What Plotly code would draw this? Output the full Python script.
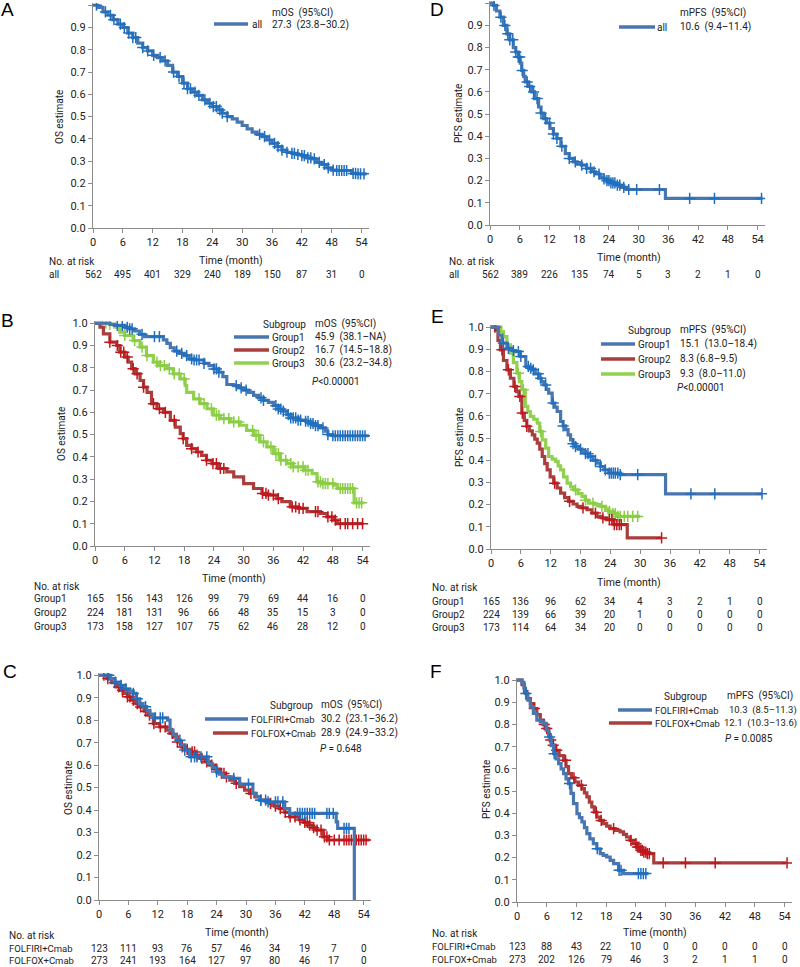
import numpy as np
import plotly.graph_objects as go

W, H = 800, 967
def px(x): return x / W
def py(y): return 1 - y / H

BLUE_L, BLUE_M = '#4A76B0', '#1F6FC0'
RED_L, RED_M = '#A83F3C', '#C0171C'
GREEN_L, GREEN_M = '#92D050', '#8ACD45'
AXC = '#8C8C8C'
TXT = '#222222'
FONT = 'Roboto'

# ---------------- Data ----------------
x_ticks = [0, 6, 12, 18, 24, 30, 36, 42, 48, 54]

# Panel A: OS all
A_t = [0,1,2,3,4,5,6,7,8,9,10,11,12,13,14,15,16,17,18,19,20,21,22,23,24,25,26,27,28,29,30,31,32,33,34,35,36,37,38,39,40,41,42,43,44,45,46,47,48,49,50,51,52,53,55]
A_s = [1.0,0.99,0.97,0.955,0.935,0.915,0.90,0.875,0.855,0.83,0.81,0.795,0.775,0.765,0.75,0.73,0.70,0.68,0.65,0.625,0.61,0.595,0.575,0.56,0.545,0.53,0.515,0.50,0.49,0.475,0.46,0.445,0.43,0.42,0.41,0.395,0.38,0.365,0.35,0.34,0.335,0.33,0.325,0.315,0.31,0.295,0.285,0.27,0.26,0.258,0.258,0.258,0.245,0.243,0.243]
A_c = [0.7,2.5,3.5,4.2,5.5,6.3,7.2,8,8.6,10,11,12.2,13.5,14.5,16.2,17.3,18.3,19,19.6,20.5,21.3,22.5,23.5,24.2,24.8,25.5,26,27,33.5,34.5,35.5,36.5,37.2,38,39,40,40.5,41.2,42,42.5,43.2,43.8,44.5,45.5,46.5,47.3,48.3,49,49.5,50,50.5,51,52.3,52.8,53.3,53.8,54.5]
A_risk = [562, 495, 401, 329, 240, 189, 150, 87, 31, 0]

# Panel D: PFS all
D_t = [0,0.7,1.3,2,2.7,3.4,4,4.7,5.2,5.7,6.1,6.4,6.8,7.1,7.7,8.4,9,9.8,10.3,10.8,11.4,12.1,12.8,13.5,14.3,15.2,16,16.8,17.6,18.5,19.5,20.5,21.3,22.2,23,23.6,24.4,25.6,26.5,27.6,35.4,55]
D_s = [1.0,0.99,0.965,0.937,0.90,0.862,0.835,0.80,0.78,0.757,0.73,0.697,0.67,0.645,0.625,0.60,0.57,0.532,0.505,0.48,0.46,0.435,0.41,0.39,0.355,0.322,0.30,0.285,0.278,0.27,0.255,0.24,0.23,0.217,0.208,0.20,0.19,0.18,0.17,0.16,0.12,0.12]
D_c = [0.8,2.2,3,3.6,4,4.6,5.2,5.7,6,6.5,7.5,8,8.8,9.5,10.3,11.2,12,12.8,13.5,14.5,16,17.2,18.5,19.5,20.3,21,22,23,23.6,24,24.4,24.8,25.2,25.7,26.2,27,28,29.6,34.2,40.3,45.3,54.8]
D_risk = [562, 389, 226, 135, 74, 5, 3, 2, 1, 0]

# Panel B: OS by subgroup
B1_t = [0,3,4,6,7,8,9,10,13.8,14.5,15.2,16,17,18,19,20,22,23,24,25,25.8,26.6,28,29,30,31,32,33,34,35,36,37,38,38.7,39.5,41,42.5,43.4,44.5,45.5,46.5,47,48,55.3]
B1_s = [1.0,0.995,0.99,0.982,0.975,0.965,0.95,0.94,0.925,0.91,0.89,0.875,0.865,0.855,0.84,0.835,0.82,0.81,0.795,0.78,0.76,0.725,0.72,0.71,0.70,0.69,0.676,0.665,0.654,0.645,0.63,0.615,0.605,0.59,0.575,0.565,0.56,0.55,0.54,0.53,0.515,0.50,0.495,0.495]
B1_c = [4.5,5.5,6.5,7,7.5,9.5,12,13,16.5,17.5,18.5,19.5,20,20.5,21,22,24,24.5,25,28.5,29.5,30.5,33.5,34,36.5,37,37.5,38,39,39.5,40,40.5,41,41.5,42.5,43,43.5,44,44.5,45,46,47,48,48.5,49,49.5,50,50.5,51,51.5,52,52.5,53,53.5,54,54.5]
B2_t = [0,0.3,1,1.7,3,4.4,5,6,6.7,7.4,8.1,9.1,9.8,10.5,11.4,12.5,13.8,15.2,16.2,17.2,17.8,18.5,19.5,20.5,21.5,22.5,23.6,24.9,26.6,28,30,32,33.7,34.7,36.7,37.7,39.4,41,42.8,45.5,46.8,48.2,48.9,54.2]
B2_s = [1.0,1.0,0.982,0.952,0.915,0.90,0.87,0.848,0.825,0.796,0.773,0.743,0.713,0.69,0.639,0.616,0.60,0.564,0.534,0.504,0.482,0.452,0.437,0.422,0.407,0.385,0.37,0.348,0.333,0.31,0.28,0.258,0.236,0.228,0.213,0.199,0.176,0.169,0.154,0.146,0.131,0.116,0.10,0.10]
B2_c = [3,4.5,5.2,5.8,6.5,7.7,8.5,9.8,11.8,13,14.2,16,17.8,19.5,20.8,22.5,23.8,24.5,25.3,26,33.8,34.5,35,36,37,39.8,40.5,41.2,42,44.5,45,47,47.8,48.5,49.5,50.5,51,52,53,54]
B3_t = [0,3,4,5,6,7.7,9.1,10.4,11.8,12.8,14.5,15.8,17.2,18.2,18.5,19.9,21.2,22.6,23.9,25.3,27.3,29.3,30.6,32,33.3,34.7,36,37.4,38.7,40,42.1,43.8,44.8,45.8,48.2,48.9,52.3,54.2]
B3_s = [1.0,0.995,0.982,0.96,0.945,0.922,0.893,0.855,0.825,0.81,0.796,0.773,0.75,0.72,0.69,0.66,0.639,0.616,0.587,0.572,0.557,0.542,0.519,0.497,0.467,0.445,0.415,0.385,0.37,0.355,0.34,0.325,0.288,0.28,0.273,0.258,0.194,0.194]
B3_c = [1.5,2.2,3,6,8,9.5,10.5,12.5,13.2,14,15,16,17,18,21,22,23.5,24.5,25,26,27,28,29,31.8,32.5,33,34,35.5,36.5,37,37.5,38.5,39.5,40,41,42,42.5,43,45,45.5,46,46.5,47,48,49.5,50,50.5,51,51.5,52,52.8,53.3,53.8]
B_names = ['Group1', 'Group2', 'Group3']
B_med = ['45.9\u00a0\u00a0(38.1\u2013NA)', '16.7\u00a0\u00a0(14.5\u201318.8)', '30.6\u00a0\u00a0(23.2\u201334.8)']
B_risk = [[165, 156, 143, 126, 99, 79, 69, 44, 16, 0],
          [224, 181, 131, 96, 66, 48, 35, 15, 3, 0],
          [173, 158, 127, 107, 75, 62, 46, 28, 12, 0]]

# Panel E: PFS by subgroup
E1_t = [0,0.9,1.5,2.2,3.2,4.2,4.9,5.9,7.0,7.6,8.2,8.9,9.6,10.1,10.6,11.1,11.6,12.3,12.8,13.3,14,14.5,15,15.5,16,16.5,17,17.6,18.3,19,19.6,20.5,21.3,22,22.7,23.7,26,35.1,54.5]
E1_s = [1.0,1.0,0.965,0.928,0.905,0.895,0.89,0.868,0.823,0.815,0.808,0.79,0.77,0.755,0.74,0.72,0.703,0.658,0.64,0.62,0.575,0.555,0.538,0.515,0.492,0.475,0.462,0.45,0.44,0.43,0.417,0.40,0.387,0.372,0.357,0.342,0.335,0.249,0.249]
E1_c = [2.5,3.5,4.5,5.5,6,7.5,8,8.5,9.5,10,11,12.5,14.5,16.5,17,18,19,19.5,20,21,22,23,23.8,24.2,24.6,25,25.5,26,29.5,40.2,45,54.5]
E2_t = [0,0.9,1.4,1.9,2.5,3.2,3.9,4.6,5.1,5.6,6.2,6.7,7.2,7.7,8.3,8.8,9.3,9.8,10.3,10.8,11.3,11.9,12.6,13.3,14,14.8,15.6,16.5,17.3,18.3,19.3,20.3,21.3,22.3,23.3,24.7,27.4,34.4]
E2_s = [1.0,0.988,0.94,0.898,0.85,0.808,0.77,0.733,0.71,0.688,0.613,0.58,0.553,0.533,0.515,0.495,0.477,0.45,0.417,0.385,0.357,0.325,0.297,0.275,0.252,0.232,0.215,0.203,0.192,0.185,0.177,0.162,0.147,0.14,0.132,0.11,0.05,0.05]
E2_c = [0.8,2.2,3.5,4.8,5.8,6.3,7.2,12.8,15.8,18.5,21,22.5,23.8,24.3,24.8,25.3,25.8,26.2,34.3]
E3_t = [0,1.5,2.0,2.5,3.2,3.9,4.5,5.2,5.7,6.2,6.9,7.4,7.9,8.6,9.3,9.8,10.3,11,11.6,12.3,13,13.5,14,14.6,15.3,16,16.6,17.5,18.3,19,19.6,20.8,22,23,23.7,24.5,25.4,30]
E3_s = [1.0,1.0,0.98,0.958,0.92,0.883,0.84,0.793,0.755,0.718,0.643,0.62,0.598,0.585,0.568,0.53,0.492,0.455,0.417,0.405,0.395,0.375,0.357,0.325,0.297,0.28,0.267,0.25,0.237,0.22,0.207,0.2,0.192,0.18,0.17,0.16,0.147,0.147]
E3_c = [5.5,6.5,10,17,19,20.5,22.3,23.8,24.5,25,25.5,26,26.8,27.5,28.5,29.5]
E_med = ['15.1\u00a0\u00a0(13.0\u201318.4)', '8.3 (6.8\u20139.5)', '9.3\u00a0\u00a0(8.0\u201311.0)']
E_risk = [[165, 136, 96, 62, 34, 4, 3, 2, 1, 0],
          [224, 139, 66, 39, 20, 1, 0, 0, 0, 0],
          [173, 114, 64, 34, 20, 0, 0, 0, 0, 0]]

# Panel C: OS by regimen
C1_t = [0,1.5,2.4,3.3,4.3,5.3,6.2,7,7.6,8.3,9,9.7,10.4,11.1,14,14.5,15.1,15.8,16.6,17.5,18.5,22.3,23.1,24,24.6,25.3,27.4,28.7,31.4,32.1,32.8,34.1,37.9,38.9,48.4,48.7,52.1]
C1_s = [1.0,1.0,0.985,0.97,0.955,0.94,0.93,0.919,0.895,0.874,0.86,0.844,0.827,0.81,0.80,0.756,0.735,0.711,0.69,0.667,0.637,0.607,0.59,0.57,0.56,0.548,0.541,0.516,0.474,0.46,0.444,0.437,0.407,0.385,0.348,0.319,0.0]
C1_c = [2,3.3,4.5,5.5,7,7.8,9.5,11.5,12.5,13,16.5,17.5,18.8,19.5,20,20.8,22,24,27.5,30.5,33,34,34.5,36,36.5,37.5,40.5,41,41.5,42,42.5,43,43.5,44,46.5,47,47.8,50,50.5,51]
C2_t = [0,1.6,2.6,3.6,4.3,4.95,5.8,6.6,7.5,8.3,9.2,10,11.1,12.4,13.8,14.5,15.1,16,16.8,17.7,18.5,19.6,20.6,21.6,22.6,23.6,24.6,25.6,26.7,27.7,28.7,29.7,30.7,31.8,32.8,34.8,35.8,36.8,37.9,38.9,40.9,41.8,42.6,43.5,44.3,45.7,46.7,55.2]
C2_s = [1.0,0.985,0.967,0.948,0.933,0.919,0.904,0.889,0.874,0.859,0.84,0.822,0.785,0.77,0.756,0.741,0.726,0.703,0.681,0.67,0.659,0.645,0.63,0.615,0.60,0.582,0.563,0.548,0.533,0.519,0.504,0.489,0.474,0.459,0.444,0.43,0.418,0.407,0.39,0.37,0.356,0.345,0.333,0.322,0.311,0.281,0.267,0.267]
C2_c = [1,1.8,3.2,4,4.8,5.8,6.3,7,7.8,8.5,9.5,10.3,11.2,12.5,13.5,15,16,17,18,19,19.5,20,21,22,23,24,25,25.5,26,28,31,33,35,36,37,38,39,40,41,42,42.5,43,43.8,44.5,45.3,46,46.5,47,48,49,50,50.5,51,51.5,52,52.5,53,53.5,54,54.5]
R_names = ['FOLFIRI+Cmab', 'FOLFOX+Cmab']
C_med = ['30.2\u00a0\u00a0(23.1\u201336.2)', '28.9\u00a0\u00a0(24.9\u201333.2)']
C_risk = [[123, 111, 93, 76, 57, 46, 34, 19, 7, 0],
          [273, 241, 193, 164, 127, 97, 80, 46, 17, 0]]

# Panel F: PFS by regimen
F1_t = [0,1.0,1.4,1.7,2.2,2.7,3.3,4,4.7,5.4,5.9,6.4,6.9,7.4,7.9,8.4,8.9,9.4,9.9,10.4,10.9,11.4,12.1,12.6,13.1,13.6,14.1,14.7,15.4,16.1,16.8,17.4,18.1,18.8,19.5,20.5,21.5,26.5]
F1_s = [1.0,0.99,0.965,0.94,0.91,0.88,0.85,0.82,0.812,0.805,0.775,0.744,0.705,0.669,0.645,0.624,0.60,0.579,0.555,0.534,0.49,0.444,0.398,0.38,0.361,0.335,0.308,0.285,0.263,0.24,0.218,0.21,0.203,0.188,0.173,0.143,0.128,0.128]
F1_c = [1.8,6.6,7.5,10.6,16.2,20.6,21,24.5,25,25.5,26]
F2_t = [0,1.0,1.5,2,2.7,3.4,4,4.7,5.3,6,6.4,6.7,7.2,7.7,8.5,9.4,9.9,10.4,11,11.7,12.4,13.1,13.6,14.1,14.6,15.1,15.6,16.1,16.7,17.4,18.1,18.8,19.8,20.8,21.5,22.1,22.8,23.5,24.1,24.8,25.5,26.2,27.6,54.3]
F2_s = [1.0,0.98,0.95,0.917,0.895,0.872,0.845,0.82,0.80,0.782,0.755,0.73,0.707,0.684,0.66,0.639,0.61,0.579,0.56,0.541,0.526,0.511,0.492,0.474,0.45,0.429,0.405,0.383,0.368,0.353,0.342,0.331,0.323,0.316,0.305,0.293,0.278,0.263,0.248,0.233,0.225,0.218,0.176,0.176]
F2_c = [3.5,5.5,6,6.8,7.3,8,9.8,11.5,13,16,17,19.5,23,24,24.3,24.6,25,25.3,25.6,26,26.3,26.7,29.5,34,40,54.5]
F_med = ['10.3\u00a0\u00a0(8.5\u201311.3)', '12.1\u00a0\u00a0(10.3\u201313.6)']
F_risk = [[123, 88, 43, 22, 10, 0, 0, 0, 0, 0],
          [273, 202, 126, 79, 46, 3, 2, 1, 1, 0]]

# ---------------- Figure ----------------
fig = go.Figure()
ann = []
shapes = []

def txt(x, y, s, size=10, anchor='left', angle=0, font=FONT, color=TXT):
    ann.append(dict(x=px(x), y=py(y), xref='paper', yref='paper', text=s, showarrow=False,
                    xanchor=anchor, yanchor='middle', textangle=angle,
                    font=dict(family=font, size=size, color=color)))

def seg(x0, x1, y, color):
    shapes.append(dict(type='line', xref='paper', yref='paper', x0=px(x0), x1=px(x1),
                       y0=py(y), y1=py(y), line=dict(color=color, width=3.5)))

def step_val(ts, ss, t):
    i = np.searchsorted(np.array(ts), np.array(t), side='right') - 1
    return np.array(ss)[np.clip(i, 0, len(ss) - 1)]

def add_curve(n, ts, ss, cs, lc, mc):
    xa, ya = ('x', 'y') if n == 1 else (f'x{n}', f'y{n}')
    fig.add_trace(go.Scatter(x=ts, y=ss, mode='lines', line=dict(color=lc, width=3.2, shape='hv'),
                             xaxis=xa, yaxis=ya, showlegend=False, hoverinfo='skip'))
    fig.add_trace(go.Scatter(x=cs, y=step_val(ts, ss, cs), mode='markers',
                             marker=dict(symbol='cross-thin', size=8, line=dict(color=mc, width=1.5)),
                             xaxis=xa, yaxis=ya, showlegend=False, hoverinfo='skip'))

panels = {
    1: dict(xd=(93, 369), yd=(3, 228)),
    2: dict(xd=(490, 765), yd=(1, 225)),
    3: dict(xd=(95, 370), yd=(321, 546)),
    4: dict(xd=(491, 767), yd=(325, 549)),
    5: dict(xd=(99, 371), yd=(673, 900)),
    6: dict(xd=(517, 792), yd=(678, 902)),
}

for n, p in panels.items():
    sx = '' if n == 1 else str(n)
    common = dict(showline=True, linecolor=AXC, linewidth=1.3, ticks='outside', ticklen=4,
                  tickcolor=AXC, tickwidth=1, showgrid=False, zeroline=False, automargin=False,
                  tickfont=dict(family=FONT, size=11, color=TXT))
    fig.update_layout(**{
        f'xaxis{sx}': dict(domain=[px(p['xd'][0]), px(p['xd'][1])], range=[0, 55.5],
                           tickvals=x_ticks, anchor=f'y{sx}', **common),
        f'yaxis{sx}': dict(domain=[py(p['yd'][1]), py(p['yd'][0])], range=[0, 1.01],
                           tickvals=[i / 10 for i in range(11)], tickformat='.1f',
                           anchor=f'x{sx}', **common),
    })

# Curves
add_curve(1, A_t, A_s, A_c, BLUE_L, BLUE_M)
add_curve(2, D_t, D_s, D_c, BLUE_L, BLUE_M)
add_curve(3, B3_t, B3_s, B3_c, GREEN_L, GREEN_M)
add_curve(3, B2_t, B2_s, B2_c, RED_L, RED_M)
add_curve(3, B1_t, B1_s, B1_c, BLUE_L, BLUE_M)
add_curve(4, E3_t, E3_s, E3_c, GREEN_L, GREEN_M)
add_curve(4, E2_t, E2_s, E2_c, RED_L, RED_M)
add_curve(4, E1_t, E1_s, E1_c, BLUE_L, BLUE_M)
add_curve(5, C2_t, C2_s, C2_c, RED_L, RED_M)
add_curve(5, C1_t, C1_s, C1_c, BLUE_L, BLUE_M)
add_curve(6, F2_t, F2_s, F2_c, RED_L, RED_M)
add_curve(6, F1_t, F1_s, F1_c, BLUE_L, BLUE_M)

# Panel letters
for L, (x, y) in {'A': (7, 9), 'D': (437, 9), 'B': (7, 320), 'E': (437, 316), 'C': (10, 671), 'F': (436, 671)}.items():
    txt(x, y, L, size=19, anchor='center', font='Liberation Sans', color='#000')

# Y titles and x titles
for (x, y, s) in [(60, 117, 'OS estimate'), (458, 114, 'PFS estimate'), (62, 434, 'OS estimate'),
                  (460, 437, 'PFS estimate'), (68, 788, 'OS estimate'), (486, 790, 'PFS estimate')]:
    txt(x, y, s, size=10, anchor='center', angle=-90)
for (x, y) in [(231, 260), (629, 257), (234, 578), (629, 582), (237, 932), (655, 932)]:
    txt(x, y, 'Time (month)', size=10.5, anchor='center')

# Legends
NB = '\u00a0\u00a0'
txt(270, 13, f'mOS{NB}(95%CI)')
seg(214, 248, 24, BLUE_L); txt(250, 24, 'all')
txt(270, 25, f'27.3{NB}(23.8\u201330.2)')

txt(678, 13, f'mPFS{NB}(95%CI)')
seg(619, 655, 27, BLUE_L); txt(655, 27, 'all')
txt(678, 27, f'10.6{NB}(9.4\u201311.4)')

txt(261, 324, 'Subgroup'); txt(313, 324, f'mOS{NB}(95%CI)')
for i, (yy, c) in enumerate(zip([337, 350, 363], [BLUE_L, RED_L, GREEN_L])):
    seg(234, 269, yy, c); txt(270, yy, B_names[i]); txt(313, yy, B_med[i])
txt(310, 381, '<i>P</i>&lt;0.00001')

txt(626, 330, 'Subgroup'); txt(678, 330, f'mPFS{NB}(95%CI)')
for i, (yy, c) in enumerate(zip([344, 359, 374], [BLUE_L, RED_L, GREEN_L])):
    seg(601, 635, yy, c); txt(636, yy, B_names[i]); txt(678, yy, E_med[i])
txt(675, 387, '<i>P</i>&lt;0.00001')

txt(268, 705, 'Subgroup'); txt(319, 705, f'mOS{NB}(95%CI)')
for i, (yy, c, x0) in enumerate(zip([719, 733], [BLUE_L, RED_L], [205, 213])):
    seg(x0, 248, yy, c); txt(249, yy, R_names[i], size=9.5); txt(319, yy, C_med[i])
txt(318, 748, '<i>P</i>\u00a0=\u00a00.648')

txt(662, 696, 'Subgroup'); txt(725, 696, f'mPFS{NB}(95%CI)')
for i, (yy, c, x0) in enumerate(zip([710, 723], [BLUE_L, RED_L], [618, 609])):
    seg(x0, 652, yy, c); txt(653, yy, R_names[i], size=9.5)
    txt(799, yy, F_med[i], size=9.5, anchor='right')
txt(723, 738, '<i>P</i>\u00a0=\u00a00.0085')

# Risk tables
def risk(n, label_x, head_y, rows, names, ys, lsize=10):
    sx = 'x' if n == 1 else f'x{n}'
    txt(label_x, head_y, 'No. at risk', size=10)
    for r, nm, yy in zip(rows, names, ys):
        txt(label_x, yy, nm, size=lsize)
        for t, v in zip(x_ticks, r):
            ann.append(dict(x=t, y=py(yy), xref=sx, yref='paper', text=str(v), showarrow=False,
                            xanchor='center', yanchor='middle',
                            font=dict(family=FONT, size=10, color=TXT)))

risk(1, 47, 262, [A_risk], ['all'], [275])
risk(2, 447, 262, [D_risk], ['all'], [275])
risk(3, 32, 586, B_risk, B_names, [598, 612, 626])
risk(4, 430, 587, E_risk, B_names, [601, 614, 627])
risk(5, 7, 935, C_risk, R_names, [948, 960], lsize=9.5)
risk(6, 430, 933, F_risk, R_names, [946, 959], lsize=9.5)

fig.update_layout(template='none', width=W, height=H, margin=dict(l=0, r=0, t=0, b=0, autoexpand=False),
                  paper_bgcolor='white', plot_bgcolor='white',
                  annotations=ann, shapes=shapes, showlegend=False)
fig.write_html('out.html', config={'displayModeBar': False},
               post_script="document.body.style.margin='0';document.body.style.overflow='hidden';")
